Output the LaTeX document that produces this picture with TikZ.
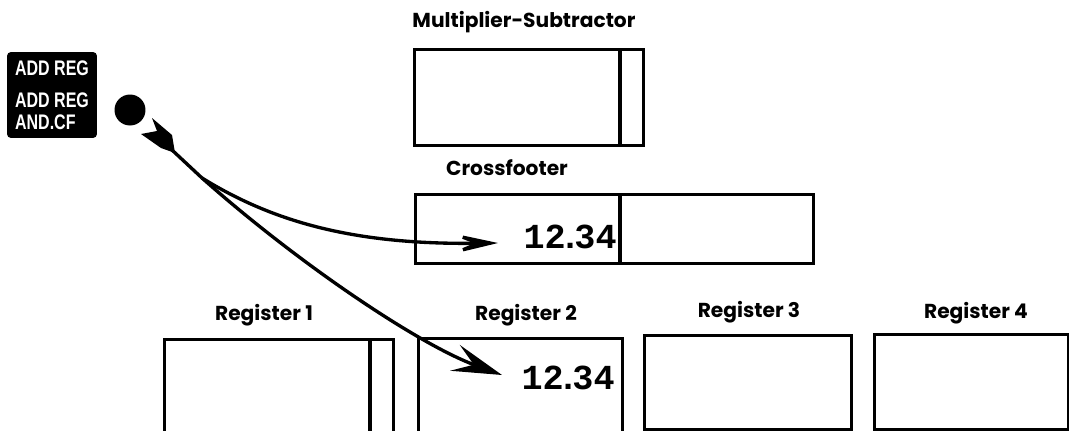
\documentclass[tikz,border=0pt]{standalone}
\usepackage{fontspec}
\setsansfont{Poppins}
\setmonofont{Liberation Mono}
\newfontfamily\platefont{Liberation Sans}[FakeStretch=0.76]
\usetikzlibrary{positioning,arrows.meta}

\begin{document}
\begin{tikzpicture}[x=0.02cm, y=-0.02cm,
  unit/.style={draw, line width=1.9pt, anchor=north west, inner sep=0pt},
  regname/.style={font=\sffamily\bfseries\fontsize{11.5}{13}\selectfont},
  amount/.style={font=\ttfamily\bfseries\fontsize{20}{22}\selectfont,
                 anchor=east, inner sep=0pt},
  wire/.style={line width=1.9pt},
  ]
  \useasboundingbox (0,0) rectangle (1069,430);

  \node[fill=black, rounded corners=0.8mm, minimum width=1.8cm, minimum height=1.72cm,
        text=white, align=left, font=\platefont\bfseries\fontsize{12}{12.5}\selectfont]
        (key) at (52,95) {ADD REG\\[6pt]ADD REG\\AND.CF};
  \node[circle, fill=black, minimum size=0.62cm, inner sep=0pt] (hub) at (130,110) {};

  \node[unit, minimum width=4.58cm, minimum height=1.92cm] (ms) at (413,48) {};
  \node[unit, minimum width=7.96cm, minimum height=1.38cm] (cf) at (414,193) {};
  \node[unit, minimum width=4.58cm, minimum height=2.0cm] (r1) at (163,338) {};
  \node[unit, minimum width=4.08cm, minimum height=2.0cm] (r2) at (417,337) {};
  \node[unit, minimum width=4.14cm, minimum height=1.88cm] (r3) at (643,334) {};
  \node[unit, minimum width=3.88cm, minimum height=1.9cm] (r4) at (873,333) {};

  \draw[line width=1.9pt] (620,48) -- (620,144);
  \draw[line width=1.9pt] (620,193) -- (620,262);
  \draw[line width=1.9pt] (370,338) -- (370,440);

  \node[regname] (msname) at (524,22) {Multiplier-Subtractor};
  \node[regname] (cfname) at (507,168) {Crossfooter};
  \node[regname] (r1name) at (264,315) {Register 1};
  \node[regname] (r2name) at (526,315) {Register 2};
  \node[regname] (r3name) at (749,312) {Register 3};
  \node[regname] (r4name) at (976,313) {Register 4};

  \node[amount] (cfnum) at (617,237) {12\kern-3.5pt.\kern-3.5pt34};
  \node[amount] (r2num) at (615,378) {12\kern-3.5pt.\kern-3.5pt34};

  \coordinate (plug) at (172,150);
  \coordinate (split) at (202,178);
  \coordinate (cfin) at (498,243);
  \coordinate (r2in) at (502,375);

  \fill (152,118) -- (157,131) -- (141,134) -- (161,148) -- (175,153) -- (172,135) -- cycle;
  \draw[wire] (plug) -- (split);
  \draw[wire, -{Stealth[length=1.1cm, width=0.5cm, inset=0.62cm]}]
        (split) .. controls (270,220) and (350,245) .. (cfin);
  \draw[wire, -{Stealth[length=1cm, width=0.55cm, inset=0.4cm]}]
        (split) .. controls (300,265) and (420,345) .. (r2in);
\end{tikzpicture}
\end{document}
